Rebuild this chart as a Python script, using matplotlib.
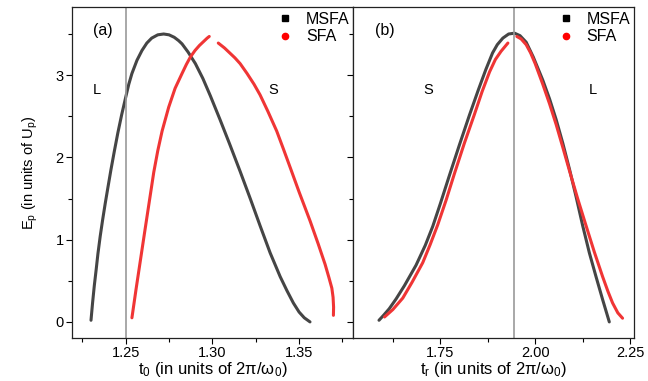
import matplotlib.pyplot as plt
from matplotlib.lines import Line2D
from matplotlib.ticker import MultipleLocator

plt.rcParams['font.family'] = ['Liberation Sans', 'DejaVu Sans']

# panel (a): ionization time t0
msfa_a_t = [1.2300, 1.2309, 1.2319, 1.2330, 1.2340, 1.2353, 1.2367, 1.2382, 1.2398, 1.2415,
            1.2435, 1.2455, 1.2477, 1.2500, 1.2518, 1.2536, 1.2565, 1.2594, 1.2622, 1.2650,
            1.2685, 1.2719, 1.2750, 1.2780, 1.2805, 1.2825, 1.2860, 1.2902, 1.2945, 1.2988,
            1.3044, 1.3100, 1.3160, 1.3220, 1.3275, 1.3333, 1.3391, 1.3430, 1.3467, 1.3500,
            1.3530, 1.3563]
msfa_a_e = [0.02, 0.23, 0.44, 0.64, 0.83, 1.04, 1.24, 1.44, 1.64, 1.85,
            2.08, 2.30, 2.52, 2.73, 2.89, 3.02, 3.18, 3.30, 3.39, 3.45,
            3.49, 3.50, 3.49, 3.46, 3.42, 3.38, 3.28, 3.14, 2.96, 2.75,
            2.46, 2.16, 1.83, 1.49, 1.17, 0.84, 0.55, 0.38, 0.23, 0.12,
            0.05, 0.00]

sfa_a1_t = [1.2536, 1.2560, 1.2585, 1.2610, 1.2636, 1.2662, 1.2685, 1.2710, 1.2748, 1.2785,
            1.2825, 1.2850, 1.2873, 1.2900, 1.2925, 1.2950, 1.2970, 1.2982]
sfa_a1_e = [0.05, 0.40, 0.75, 1.10, 1.46, 1.82, 2.08, 2.32, 2.61, 2.84,
            3.02, 3.13, 3.22, 3.30, 3.36, 3.41, 3.45, 3.47]
sfa_a2_t = [1.3034, 1.3070, 1.3100, 1.3130, 1.3160, 1.3200, 1.3240, 1.3275, 1.3320, 1.3371,
            1.3410, 1.3450, 1.3500, 1.3563, 1.3610, 1.3650, 1.3672, 1.3689, 1.3696, 1.3699,
            1.3698]
sfa_a2_e = [3.39, 3.33, 3.27, 3.21, 3.14, 3.02, 2.89, 2.76, 2.56, 2.32,
            2.10, 1.87, 1.58, 1.23, 0.95, 0.70, 0.54, 0.41, 0.30, 0.18,
            0.08]

# panel (b): return time tr
msfa_b_t = [1.5880, 1.6000, 1.6150, 1.6332, 1.6550, 1.6858, 1.7100, 1.7297, 1.7500, 1.7737,
            1.8000, 1.8263, 1.8500, 1.8700, 1.8876, 1.9000, 1.9147, 1.9300, 1.9455, 1.9600,
            1.9763, 1.9950, 2.0200, 2.0380, 2.0553, 2.0730, 2.0903, 2.1080, 2.1253, 2.1429,
            2.1605, 2.1780, 2.1955]
msfa_b_e = [0.02, 0.08, 0.16, 0.28, 0.44, 0.69, 0.93, 1.16, 1.44, 1.78,
            2.15, 2.51, 2.82, 3.07, 3.27, 3.37, 3.45, 3.50, 3.51, 3.48,
            3.40, 3.22, 2.94, 2.71, 2.46, 2.17, 1.86, 1.52, 1.17, 0.84,
            0.55, 0.27, 0.00]

sfa_b1_t = [1.6026, 1.6245, 1.6508, 1.6750, 1.7034, 1.7230, 1.7429, 1.7650, 1.7868, 1.8130,
            1.8395, 1.8600, 1.8797, 1.8950, 1.9100, 1.9280]
sfa_b1_e = [0.06, 0.15, 0.29, 0.48, 0.72, 0.94, 1.18, 1.48, 1.80, 2.17,
            2.52, 2.80, 3.04, 3.19, 3.29, 3.39]
sfa_b2_t = [1.9516, 1.9630, 1.9763, 1.9880, 2.0000, 2.0200, 2.0380, 2.0553, 2.0730, 2.0903,
            2.1120, 2.1342, 2.1560, 2.1779, 2.1920, 2.2042, 2.2180, 2.2305]
sfa_b2_e = [3.47, 3.44, 3.37, 3.27, 3.14, 2.89, 2.65, 2.40, 2.12, 1.84,
            1.50, 1.17, 0.85, 0.55, 0.37, 0.23, 0.11, 0.045]

gray = '#454545'
red = '#f03535'

fig, (ax1, ax2) = plt.subplots(1, 2, figsize=(6.48, 3.81), dpi=100, sharey=True)
fig.subplots_adjust(left=0.111, right=0.978, top=0.982, bottom=0.113, wspace=0)

ax1.plot(msfa_a_t, msfa_a_e, color=gray, lw=2.2, solid_capstyle='round')
ax1.plot(sfa_a1_t, sfa_a1_e, color=red, lw=2.2, solid_capstyle='round')
ax1.plot(sfa_a2_t, sfa_a2_e, color=red, lw=2.2, solid_capstyle='round')
ax1.axvline(1.25, color='#999999', lw=1.2)

ax2.plot(msfa_b_t, msfa_b_e, color=gray, lw=2.2, solid_capstyle='round')
ax2.plot(sfa_b1_t, sfa_b1_e, color=red, lw=2.2, solid_capstyle='round')
ax2.plot(sfa_b2_t, sfa_b2_e, color=red, lw=2.2, solid_capstyle='round')
ax2.axvline(1.945, color='#999999', lw=1.2)

ax1.set_xlim(1.219, 1.381)
ax2.set_xlim(1.519, 2.26)
ax1.set_ylim(-0.195, 3.83)

ax1.xaxis.set_major_locator(MultipleLocator(0.05))
ax1.xaxis.set_minor_locator(MultipleLocator(0.025))
ax2.xaxis.set_major_locator(MultipleLocator(0.25))
ax2.xaxis.set_minor_locator(MultipleLocator(0.125))
ax1.yaxis.set_major_locator(MultipleLocator(1))
ax1.yaxis.set_minor_locator(MultipleLocator(0.5))
ax1.xaxis.set_major_formatter(plt.FormatStrFormatter('%.2f'))
ax2.xaxis.set_major_formatter(plt.FormatStrFormatter('%.2f'))

for ax in (ax1, ax2):
    ax.tick_params(which='major', direction='out', length=4, width=0.8, labelsize=10.5, pad=2)
    ax.tick_params(which='minor', direction='out', length=3, width=0.8)
    for s in ax.spines.values():
        s.set_linewidth(0.9)
        s.set_color('#222222')
ax2.tick_params(axis='y', which='both', labelleft=False)

ax1.set_xlabel(r'$\mathregular{t_0}$ (in units of 2$\mathregular{\pi/\omega_0}$)', fontsize=12, labelpad=0)
ax2.set_xlabel(r'$\mathregular{t_r}$ (in units of 2$\mathregular{\pi/\omega_0}$)', fontsize=12, labelpad=0)
ax1.set_ylabel(r'$\mathregular{E_p}$ (in units of $\mathregular{U_p}$)', fontsize=10.5, labelpad=11)

ax1.text(0.11, 0.93, '(a)', transform=ax1.transAxes, fontsize=11.5, ha='center', va='center')
ax2.text(0.115, 0.93, '(b)', transform=ax2.transAxes, fontsize=11.5, ha='center', va='center')
ax1.text(0.09, 0.75, 'L', transform=ax1.transAxes, fontsize=10.5, ha='center', va='center')
ax1.text(0.715, 0.75, 'S', transform=ax1.transAxes, fontsize=10.5, ha='center', va='center')
ax2.text(0.27, 0.75, 'S', transform=ax2.transAxes, fontsize=10.5, ha='center', va='center')
ax2.text(0.855, 0.75, 'L', transform=ax2.transAxes, fontsize=10.5, ha='center', va='center')

handles = [Line2D([], [], ls='none', marker='s', ms=4, color='black', label='MSFA'),
           Line2D([], [], ls='none', marker='o', ms=4.5, color='red', label='SFA')]
for ax in (ax1, ax2):
    ax.legend(handles=handles, loc='upper right', bbox_to_anchor=(0.988, 0.985),
              frameon=False, fontsize=11.5, handlelength=1.0, handletextpad=0.8,
              labelspacing=0.15, borderaxespad=0, borderpad=0)

plt.savefig('out.png', dpi=100)
